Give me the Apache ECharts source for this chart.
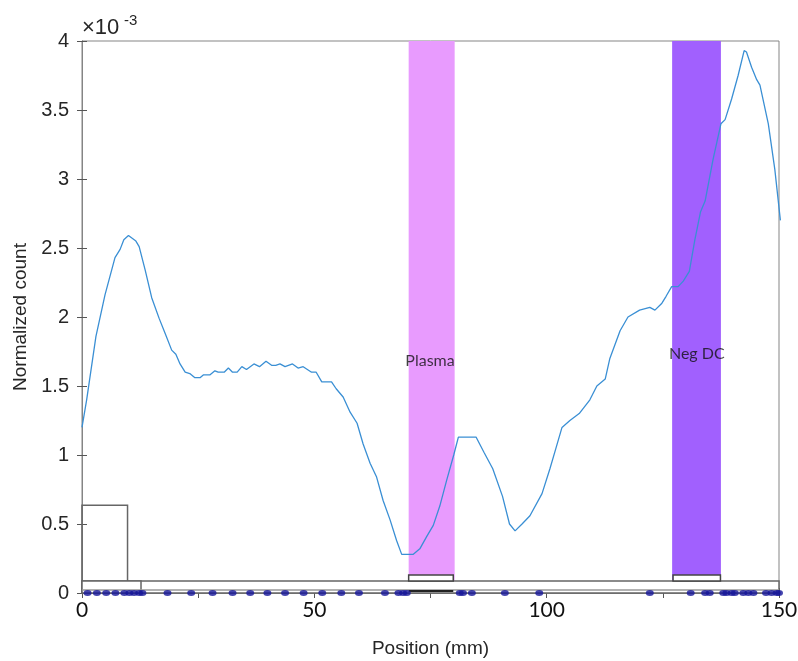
<!DOCTYPE html>
<html>
<head>
<meta charset="utf-8">
<script src="https://cdn.jsdelivr.net/npm/echarts@6/dist/echarts.min.js"></script>
<style>
  html, body { margin: 0; padding: 0; background: #fff; }
  #chart { width: 798px; height: 661px; }
</style>
</head>
<body>
<div id="chart"></div>
<script>
// position (mm) and normalized count (x1e-3)
var posMm = [0, 1.0, 3.0, 4.95, 7.1, 8.2, 9.0, 10.0, 11.6, 12.3, 13.6, 15.0, 16.6, 17.9, 19.3, 20.2, 21.1, 22.2, 23.2, 24.3, 25.4, 26.1, 27.5, 28.6, 29.3, 30.6, 31.5, 32.4, 33.4, 34.4, 35.4, 37.0, 38.2, 39.6, 40.8, 41.7, 42.6, 43.7, 45.3, 46.5, 47.6, 49.4, 50.4, 51.6, 53.7, 54.7, 56.2, 57.7, 59.2, 60.5, 62.0, 63.4, 64.8, 66.3, 67.7, 68.8, 69.9, 71.3, 72.7, 74.2, 75.6, 77.0, 78.5, 80.0, 81.0, 84.8, 86.5, 88.4, 90.5, 92.0, 93.2, 94.7, 96.4, 99.0, 100.7, 102.0, 103.3, 105.0, 107.0, 109.3, 110.8, 112.6, 113.6, 115.8, 117.5, 120.0, 122.2, 123.3, 124.8, 125.7, 126.9, 128.3, 129.4, 130.7, 131.9, 133.1, 134.1, 135.8, 137.5, 138.4, 139.8, 141.2, 142.5, 143.0, 144.1, 145.2, 145.9, 147.7, 149.1, 150.3];
var countE3 = [1.20, 1.40, 1.86, 2.16, 2.43, 2.49, 2.56, 2.59, 2.55, 2.51, 2.34, 2.14, 1.99, 1.88, 1.76, 1.73, 1.66, 1.60, 1.59, 1.56, 1.56, 1.58, 1.58, 1.61, 1.60, 1.60, 1.63, 1.60, 1.60, 1.64, 1.62, 1.66, 1.64, 1.68, 1.65, 1.65, 1.66, 1.64, 1.66, 1.63, 1.64, 1.60, 1.60, 1.53, 1.53, 1.48, 1.42, 1.31, 1.23, 1.08, 0.94, 0.84, 0.67, 0.53, 0.38, 0.28, 0.28, 0.28, 0.32, 0.41, 0.49, 0.63, 0.82, 1.00, 1.13, 1.13, 1.02, 0.90, 0.70, 0.50, 0.45, 0.50, 0.56, 0.72, 0.90, 1.05, 1.20, 1.25, 1.30, 1.40, 1.50, 1.55, 1.70, 1.90, 2.00, 2.05, 2.07, 2.05, 2.10, 2.15, 2.22, 2.22, 2.26, 2.33, 2.56, 2.76, 2.84, 3.14, 3.40, 3.43, 3.58, 3.75, 3.93, 3.92, 3.81, 3.72, 3.68, 3.40, 3.07, 2.70];

// marker positions along the bottom (mm)
var markerMm = [1.2, 3.2, 5.2, 7.2, 9.1, 10.2, 11.2, 12.3, 13.0, 18.4, 23.5, 28.1, 32.4, 36.2, 39.9, 43.7, 47.7, 51.7, 55.8, 59.6, 65.2, 68.1, 69.1, 69.9, 81.3, 82.0, 83.9, 91.0, 98.4, 122.2, 131.0, 134.1, 135.1, 138.0, 138.7, 139.8, 140.5, 142.3, 143.4, 144.5, 147.2, 148.4, 149.5, 150.0];

// shaded regions
var bandNames = ['Plasma', 'Neg DC'];
var bandStart = [70.3, 127.0];
var bandEnd = [80.2, 137.5];
var bandLabelPos = [[74.9, 1.68], [132.3, 1.73]];

// outline boxes: [x0, x1, y0, y1]
var boxes = [
  [0, 9.8, 0, 0.635],
  [0, 150, 0, 0.087],
  [0, 12.7, 0, 0.087],
  [70.3, 79.9, 0.087, 0.13],
  [127.2, 137.4, 0.087, 0.13]
];
// thin rail inside the bottom strip: [x0, x1, y]
var rails = [[0, 150, 0.022], [70.3, 79.9, 0.015]];

var xTicks = [0, 50, 100, 150];

var chart = echarts.init(document.getElementById('chart'));

var lineData = posMm.map(function (x, i) { return [x, countE3[i]]; });
var markerData = markerMm.map(function (x) { return [x, 0]; });
var bandColors = ['#e89bfe', '#a160fe'];

var option = {
  animation: false,
  grid: {
    left: 82, right: 19, top: 41, bottom: 68,
    outerBoundsMode: 'none', containLabel: false,
    show: true, borderColor: '#858585', borderWidth: 1
  },
  graphic: [
    { type: 'text', left: 82, top: 17, style: { text: '×10', font: '22px "Liberation Sans"', fill: '#262626' } },
    { type: 'text', left: 124, top: 13, style: { text: '-3', font: '15px "Liberation Sans"', fill: '#262626' } }
  ],
  xAxis: [{
    type: 'value', min: 0, max: 150, interval: 25,
    name: 'Position (mm)', nameLocation: 'middle', nameGap: 46,
    nameTextStyle: { fontFamily: 'Liberation Sans', fontSize: 19, color: '#262626' },
    axisLine: { lineStyle: { color: '#858585' } },
    axisTick: { inside: true, length: 5, lineStyle: { color: '#555' } },
    axisLabel: {
      margin: 7, fontFamily: 'Lato', fontSize: 21, color: '#111',
      formatter: function (v) { return xTicks.indexOf(v) >= 0 ? String(v) : ''; }
    },
    splitLine: { show: false }
  }, {
    type: 'value', min: 0, max: 150, interval: 25, position: 'top',
    axisLine: { lineStyle: { color: '#858585' } },
    axisTick: { inside: true, length: 5, lineStyle: { color: '#555' } },
    axisLabel: { show: false },
    splitLine: { show: false }
  }],
  yAxis: [{
    type: 'value', min: 0, max: 4, interval: 0.5,
    name: 'Normalized count', nameLocation: 'middle', nameGap: 50,
    nameTextStyle: { fontFamily: 'Liberation Sans', fontSize: 19, color: '#262626' },
    axisLine: { show: true, lineStyle: { color: '#858585' } },
    axisTick: { show: true, inside: true, length: 5, lineStyle: { color: '#555' } },
    axisLabel: { margin: 13, fontFamily: 'Liberation Sans', fontSize: 20, color: '#262626' },
    splitLine: { show: false }
  }, {
    type: 'value', min: 0, max: 4, interval: 0.5, position: 'right',
    axisLine: { show: true, lineStyle: { color: '#858585' } },
    axisTick: { show: true, inside: true, length: 5, lineStyle: { color: '#555' } },
    axisLabel: { show: false },
    splitLine: { show: false }
  }],
  series: [
    {
      // shaded bands
      type: 'custom', z: 1, silent: true,
      data: bandStart.map(function (s, i) { return [s, bandEnd[i], i]; }),
      renderItem: function (params, api) {
        var p0 = api.coord([api.value(0), 4]);
        var p1 = api.coord([api.value(1), 0]);
        return {
          type: 'rect',
          shape: { x: p0[0], y: p0[1], width: p1[0] - p0[0], height: p1[1] - p0[1] },
          style: { fill: bandColors[api.value(2)] }
        };
      }
    },
    {
      // outline boxes
      type: 'custom', z: 3, silent: true,
      data: boxes,
      renderItem: function (params, api) {
        var p0 = api.coord([api.value(0), api.value(3)]);
        var p1 = api.coord([api.value(1), api.value(2)]);
        var filled = params.dataIndex >= 1;
        return {
          type: 'rect',
          shape: { x: p0[0], y: p0[1], width: p1[0] - p0[0], height: p1[1] - p0[1] },
          style: { fill: filled ? '#fff' : 'none', stroke: params.dataIndex >= 3 ? '#444' : '#666', lineWidth: 1.5 }
        };
      }
    },
    {
      type: 'custom', z: 3, silent: true,
      data: rails,
      renderItem: function (params, api) {
        var p0 = api.coord([api.value(0), api.value(2)]);
        var p1 = api.coord([api.value(1), api.value(2)]);
        return {
          type: 'line',
          shape: { x1: p0[0], y1: p0[1], x2: p1[0], y2: p1[1] },
          style: { stroke: params.dataIndex === 0 ? '#999' : '#222', lineWidth: params.dataIndex === 0 ? 1.5 : 2 }
        };
      }
    },
    {
      type: 'line', z: 4, data: lineData,
      showSymbol: false, smooth: false,
      lineStyle: { color: '#3a8fd4', width: 1.3 },
      clip: true
    },
    {
      type: 'scatter', z: 5, data: markerData,
      symbol: 'circle', symbolSize: [8, 6],
      itemStyle: { color: '#16169a' },
      clip: false
    },
    {
      // band labels
      type: 'scatter', z: 6, symbolSize: 0,
      data: bandLabelPos.map(function (p, i) { return { value: p, name: bandNames[i] }; }),
      label: {
        show: true, position: 'inside', formatter: '{b}',
        fontFamily: 'Lato', fontSize: 16, color: '#111'
      }
    }
  ]
};

chart.setOption(option);
</script>
</body>
</html>
